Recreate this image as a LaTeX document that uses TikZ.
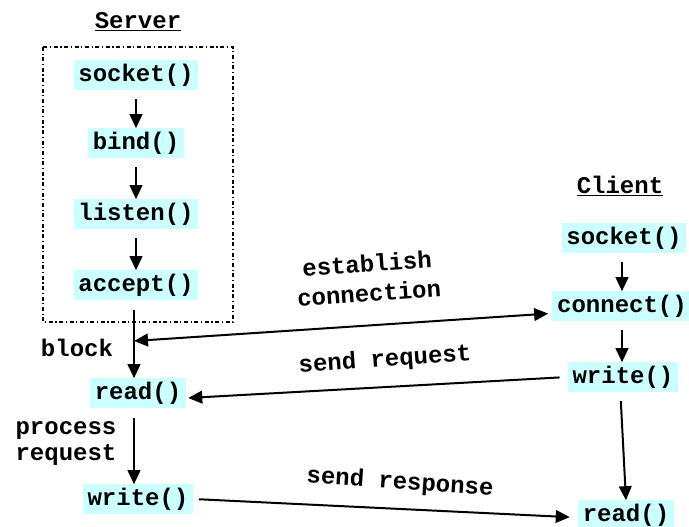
\documentclass[tikz,border=0pt]{standalone}
\usepackage{fontspec}
\setmonofont{Liberation Mono}
\usetikzlibrary{arrows.meta}
\definecolor{callbg}{RGB}{204,255,255}
\tikzset{
  call/.style={fill=callbg, inner xsep=3.6pt, inner ysep=0pt, minimum height=21.8pt},
  lbl/.style={align=center, inner sep=0pt},
  flow/.style={->, line width=1.5pt},
}
\begin{document}
\begin{tikzpicture}[x=0.75pt, y=-0.75pt,
    font=\ttfamily\bfseries\fontsize{18}{19.5}\selectfont,
    >={Triangle[length=10.5pt,width=9.5pt]}]
            \useasboundingbox (0,0) rectangle (689,527);

            % server side
            \node (Stitle) at (138,22) {\underline{Server}};
            \draw[line width=0.8pt, dash dot] (43,47) rectangle (233,322);
            \node[call] (Ssock) at (136,75) {socket()};
            \node[call] (Sbind) at (136,143) {bind()};
            \node[call] (Slisten) at (136,214) {listen()};
            \node[call] (Saccept) at (136,285) {accept()};
            \node[call] (Sread) at (138,393) {read()};
            \node[call] (Swrite) at (138,499) {write()};
            \coordinate (blk) at (134,341);

            % client side
            \node (Ctitle) at (620,186) {\underline{Client}};
            \node[call] (Csock) at (624,238) {socket()};
            \node[call] (Cconn) at (622,306) {connect()};
            \node[call] (Cwrite) at (623,377) {write()};
            \node[call] (Cread) at (626,515) {read()};

            % labels
            \node[lbl] (Lblock) at (77,348) {block};
            \node[lbl] (Lproc) at (66,444) {process\\request};
            \node[lbl, rotate=4] (Lest) at (368,278) {establish\\[3pt]connection};
            \node[lbl, rotate=4] (Lreq) at (385,360) {send request};
            \node[lbl, rotate=-4] (Lresp) at (400,483) {send response};

            \draw[flow, shorten <=7pt] (Ssock.south) to (Sbind.north);
            \draw[flow, shorten <=7pt] (Sbind.south) to (Slisten.north);
            \draw[flow, shorten <=7pt] (Slisten.south) to (Saccept.north);
            \draw[flow, shorten <=8pt] (Saccept.south -| blk) to (Sread.north -| blk);
            \draw[flow, shorten <=8pt] (Sread.south -| blk) to (Swrite.north -| blk);
            \draw[flow, shorten <=7pt] (Csock.south -| Cconn) to (Cconn.north -| Cconn);
            \draw[flow, shorten <=7pt] (Cconn.south -| Cconn) to (Cconn.south |- Cwrite.north);
            \draw[flow, shorten <=7pt] ([xshift=-2pt]Cwrite.south) to (Cread.north);
            \draw[flow, <->, shorten >=3pt] (blk) to (Cconn.186);
            \draw[flow, shorten <=6pt, shorten >=1.5pt] (Cwrite.west) to (Sread.-6);
            \draw[flow, shorten <=4pt, shorten >=6pt] (Swrite.east) to (Cread.183);
        \end{tikzpicture}
\end{document}
